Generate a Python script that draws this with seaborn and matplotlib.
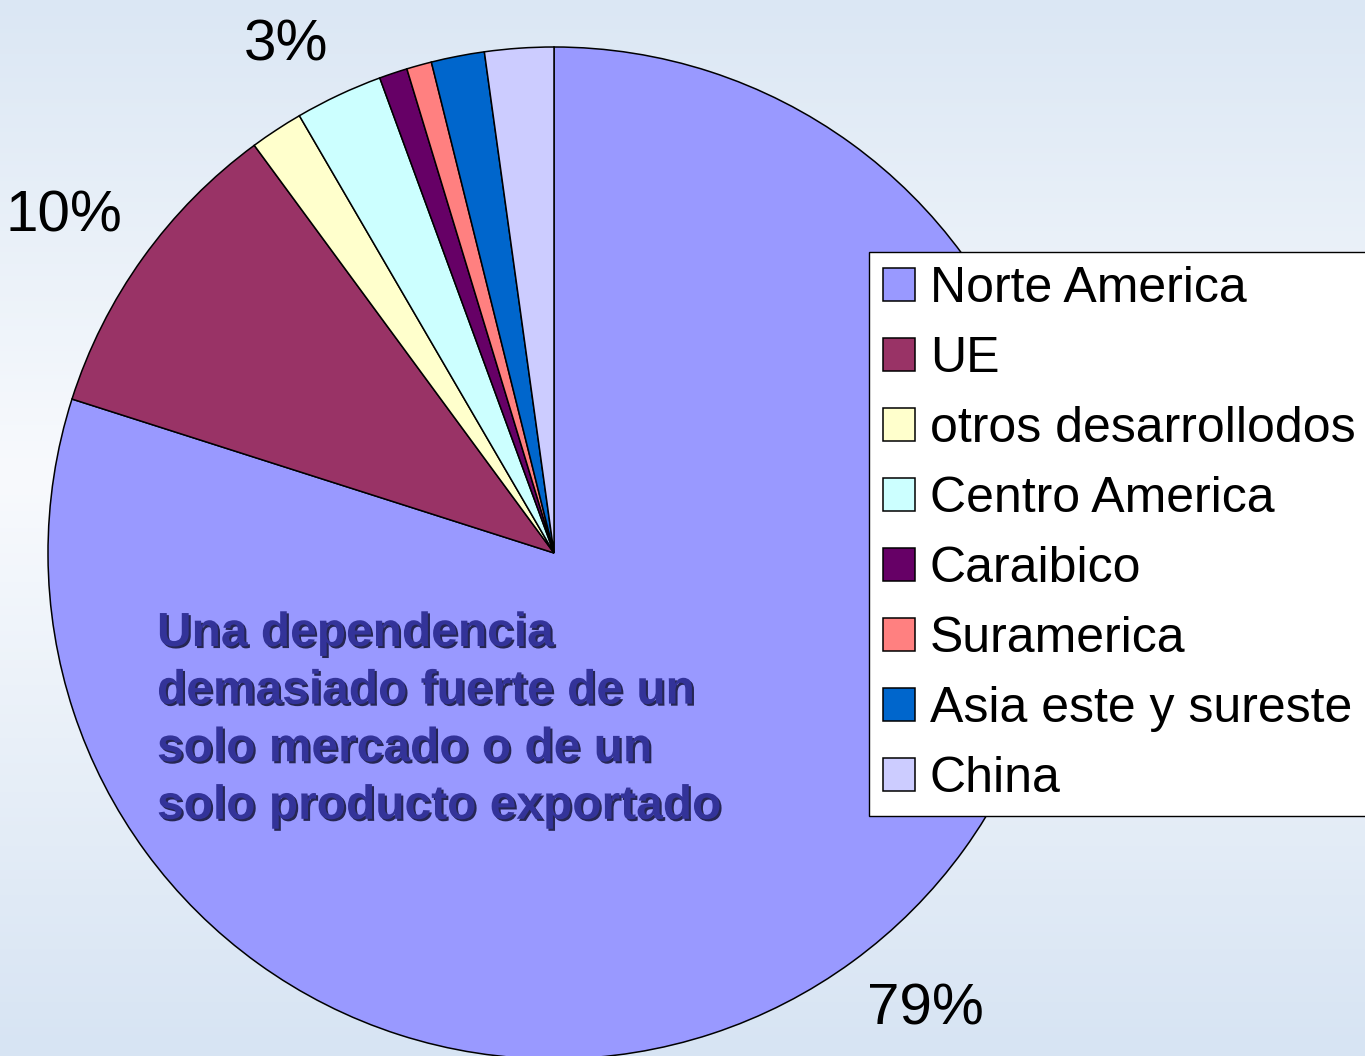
import numpy as np
import seaborn as sns
import matplotlib.pyplot as plt
import matplotlib.patheffects as pe
from matplotlib.colors import LinearSegmentedColormap

# data (share of exports by destination)
categories = ["Norte America", "UE", "otros desarrollodos", "Centro America",
              "Caraibico", "Suramerica", "Asia este y sureste", "China"]
shares = [80.0, 10.0, 1.7, 2.8, 0.9, 0.8, 1.7, 2.2]
pct_labels = ["79%", "10%", "", "3%", "", "", "", ""]
slice_colors = ["#9999FF", "#993366", "#FFFFCC", "#CCFFFF",
                "#660066", "#FF8080", "#0066CC", "#CCCCFF"]
note = "Una dependencia\ndemasiado fuerte de un\nsolo mercado o de un\nsolo producto exportado"

sns.set_theme(style="white")
plt.rcParams['font.family'] = ['Liberation Sans', 'DejaVu Sans']
plt.rcParams['text.color'] = 'black'

W, H = 1365, 1056
fig = plt.figure(figsize=(W / 100, H / 100), dpi=100)

# background: soft blue vertical gradient
bg = fig.add_axes([0, 0, 1, 1], zorder=-10)
cmap = LinearSegmentedColormap.from_list(
    "bg", [(0.0, "#dbe7f4"), (0.45, "#f8fafd"), (1.0, "#d7e4f3")])
bg.imshow(np.linspace(0, 1, 256).reshape(-1, 1), aspect="auto", cmap=cmap,
          extent=[0, 1, 0, 1], origin="upper")
bg.axis("off")

# pie
cx, cy, r = 554, 553, 506
ax = fig.add_axes([(cx - r) / W, (H - cy - r) / H, 2 * r / W, 2 * r / H])
palette = sns.color_palette(slice_colors)
wedges, _ = ax.pie(shares, colors=palette, startangle=90, counterclock=False,
                   radius=1, wedgeprops=dict(edgecolor="black", linewidth=1.1))
ax.set_xlim(-1, 1)
ax.set_ylim(-1, 1)
ax.set_aspect("equal")
ax.axis("off")

# percentage labels just outside the rim, corner facing the pie
for w, lab in zip(wedges, pct_labels):
    if not lab:
        continue
    a = np.deg2rad((w.theta1 + w.theta2) / 2)
    x, y = 1.05 * np.cos(a), 1.05 * np.sin(a)
    ax.text(x, y, lab, ha="left" if x > 0 else "right",
            va="bottom" if y > 0 else "top",
            fontsize=42, color="black", clip_on=False)

# note inside the big slice
fig.text(157 / W, 1 - 611 / H, note, ha="left", va="top", fontsize=34.5,
         fontweight="bold", color="#333399", linespacing=1.36,
         path_effects=[pe.withSimplePatchShadow(offset=(1.5, -1.5),
                                                shadow_rgbFace="#1a1a40",
                                                alpha=0.9)])

leg = fig.legend(wedges, categories, loc="upper left",
                 bbox_to_anchor=(869 / W, 1 - 252 / H), borderaxespad=0,
                 frameon=True, fancybox=False, edgecolor="black",
                 facecolor="white", framealpha=1, fontsize=36,
                 handlelength=0.64, handleheight=0.64, handletextpad=0.3,
                 labelspacing=0.48, borderpad=0.28)
leg.get_frame().set_linewidth(1.0)
for t in leg.get_texts():
    t.set_color("black")

fig.savefig("out.png", dpi=100)
